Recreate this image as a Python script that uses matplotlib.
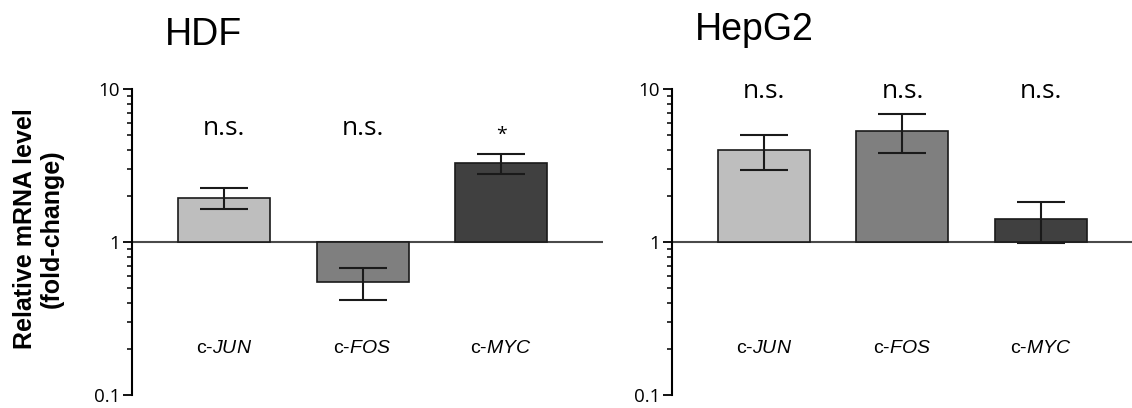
import matplotlib
matplotlib.use("Agg")
import matplotlib.pyplot as plt
import numpy as np

plt.rcParams["mathtext.fontset"] = "custom"
plt.rcParams["mathtext.rm"] = "Liberation Sans"
plt.rcParams["mathtext.it"] = "Liberation Sans:italic"

# ── data ─────────────────────────────────────────────────────────────────────
genes = ["JUN", "FOS", "MYC"]
hdf_mean = [1.94, 0.55, 3.28]
hdf_err = [0.30, 0.13, 0.49]
hdf_sig = ["n.s.", "n.s.", "*"]
hepg2_mean = [3.99, 5.32, 1.41]
hepg2_err = [1.05, 1.50, 0.42]
hepg2_sig = ["n.s.", "n.s.", "n.s."]

bar_colours = ["#bebebe", "#7f7f7f", "#404040"]

W, H = 1132, 408
fig = plt.figure(figsize=(W / 100, H / 100), dpi=100)
ax_l = fig.add_axes([132 / W, 13 / H, 471 / W, 306 / H])
ax_r = fig.add_axes([672 / W, 13 / H, 460 / W, 306 / H])


def draw_panel(ax, means, errs, sigs, xlim, sig_y, star_y):
    x = np.arange(len(means))
    means = np.array(means)
    ax.set_yscale("log")
    ax.bar(x, means - 1, bottom=1, width=0.664, color=bar_colours,
           edgecolor="#1a1a1a", linewidth=1.2, zorder=2)
    ax.errorbar(x, means, yerr=errs, fmt="none", ecolor="#1a1a1a",
                elinewidth=1.5, capsize=17, capthick=1.5, zorder=3)
    ax.axhline(1, color="#4a4a4a", linewidth=1.5, zorder=1)
    ax.set_ylim(0.1, 10)
    ax.set_xlim(*xlim)
    for s in ["top", "right", "bottom"]:
        ax.spines[s].set_visible(False)
    ax.spines["left"].set_linewidth(1.5)
    ax.set_xticks([])
    ax.set_yticks([0.1, 1, 10])
    ax.set_yticklabels(["0.1", "1", "10"], family="Open Sans", fontsize=13.5)
    ax.tick_params(axis="y", which="major", length=6.5, width=1.3, pad=2)
    ax.tick_params(axis="y", which="minor", length=3.6, width=1.1)
    ax.yaxis.set_minor_formatter(matplotlib.ticker.NullFormatter())
    for i, g in enumerate(genes):
        ax.text(x[i], 0.2, "c-$\\it{" + g + "}$", ha="center", va="center",
                fontsize=14, family="Liberation Sans")
        if sigs[i] == "*":
            ax.text(x[i], star_y, "*", ha="center", va="center",
                    fontsize=14, family="Open Sans")
        else:
            ax.text(x[i], sig_y, sigs[i], ha="center", va="baseline",
                    fontsize=19, family="Open Sans")


draw_panel(ax_l, hdf_mean, hdf_err, hdf_sig, (-0.664, 2.736), 5.0, 5.0)
draw_panel(ax_r, hepg2_mean, hepg2_err, hepg2_sig, (-0.664, 2.657), 8.73, 8.73)

ax_l.set_ylabel("Relative mRNA level\n(fold-change)", fontsize=18,
                fontweight="bold", family="Liberation Sans", linespacing=1.15)
ax_l.yaxis.set_label_coords(-0.144, 0.544)

fig.text(204 / W, 1 - 45 / H, "HDF", ha="center", va="baseline",
         fontsize=27, family="Liberation Sans")
fig.text(754 / W, 1 - 40 / H, "HepG2", ha="center", va="baseline",
         fontsize=27, family="Liberation Sans")

fig.savefig("out.png", dpi=100)
